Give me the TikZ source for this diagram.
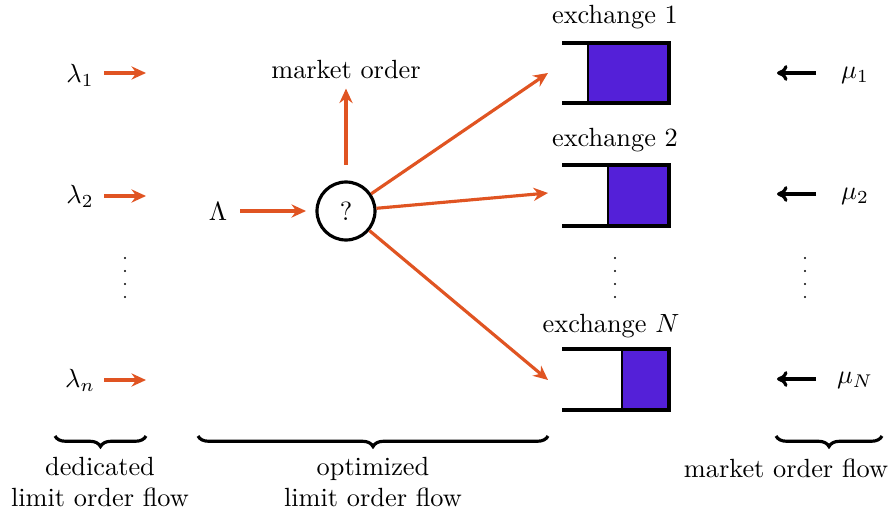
\documentclass[tikz,border=0pt]{standalone}
\usepackage{amsmath}
\usetikzlibrary{arrows.meta,decorations.pathreplacing}
\definecolor{flow}{RGB}{224,84,34}
\definecolor{book}{RGB}{84,32,216}
\tikzset{
	limarr/.style = {-{Stealth[length=5.5pt,width=5pt,inset=1.8pt]}, flow, line width=1.2pt},
	mktarr/.style = {-{To[length=4pt,width=6pt]}, black, line width=1.2pt},
	queue/.style = {line width=1.2pt},
	grp/.style = {decorate, decoration={brace, mirror, amplitude=4pt}, line width=1.2pt}
}
\begin{document}
\begin{tikzpicture}[x=0.38pt, y=-0.38pt]
			\useasboundingbox (0,0) rectangle (890,508);
			% dedicated limit order flow
			\node (l1) at (80,75) {$\lambda_1$};
			\node (l2) at (80,196) {$\lambda_2$};
			\node (ln) at (80,380) {$\lambda_n$};
			\coordinate (l1e) at (146,73);
			\coordinate (l2e) at (146,196);
			\coordinate (lne) at (146,380);
			\draw[limarr] (104,73) -- (l1e);
			\draw[limarr] (104,196) -- (l2e);
			\draw[limarr] (104,380) -- (lne);
			\foreach \y in {258,271,284,297}
				\fill (125,\y) circle (0.45pt);
			
			% router
			\node (L) at (218,212) {$\Lambda$};
			\node[circle, draw, line width=1.2pt, minimum size=58*0.38pt, inner sep=0pt] (r) at (346,211) {?};
			\node (mo) at (346,70) {market order};
			\coordinate (rin) at (306,211);
			\draw[limarr] (240,211) -- (rin);
			\draw[limarr] (346,165) -- (mo);
			
			% exchanges
			\node (x1) at (615,17) {exchange 1};
			\node (x2) at (615,140) {exchange 2};
			\node (xn) at (611,326) {exchange $N$};
			\foreach \y in {258,271,284,297}
				\fill (615,\y) circle (0.45pt);
			\fill[book] (588,43) rectangle (669,103);
			\fill[book] (608,165) rectangle (669,226);
			\fill[book] (622,349) rectangle (669,410);
			\draw[queue] (562,43) -- (669,43) -- (669,103) -- (562,103);
			\draw[queue] (562,165) -- (669,165) -- (669,226) -- (562,226);
			\draw[queue] (562,349) -- (669,349) -- (669,410) -- (562,410);
			\draw[line width=0.6pt] (588,43) -- (588,103);
			\draw[line width=0.6pt] (608,165) -- (608,226);
			\draw[line width=0.6pt] (622,349) -- (622,410);
			\coordinate (e1) at (548,73);
			\coordinate (e2) at (548,193);
			\coordinate (en) at (548,380);
			\draw[limarr] (r) -- (e1);
			\draw[limarr] (r) -- (e2);
			\draw[limarr] (r) -- (en);
			
			% market order flow
			\node (m1) at (855,75) {$\mu_1$};
			\node (m2) at (855,196) {$\mu_2$};
			\node (mn) at (855,380) {$\mu_N$};
			\coordinate (m1e) at (777,73);
			\coordinate (m2e) at (777,194);
			\coordinate (mne) at (777,379);
			\draw[mktarr] (816,73) -- (m1e);
			\draw[mktarr] (816,194) -- (m2e);
			\draw[mktarr] (816,379) -- (mne);
			\foreach \y in {258,271,284,297}
				\fill (805,\y) circle (0.45pt);
			
			% groups
			\draw[grp] (55,436) -- (146,436);
			\draw[grp] (198,436) -- (548,436);
			\draw[grp] (776,436) -- (882,436);
			\node[align=center] (g1) at (100,482) {dedicated\\limit order flow};
			\node[align=center] (g2) at (373,482) {optimized\\limit order flow};
			\node (g3) at (786,468) {market order flow};
		\end{tikzpicture}
\end{document}
